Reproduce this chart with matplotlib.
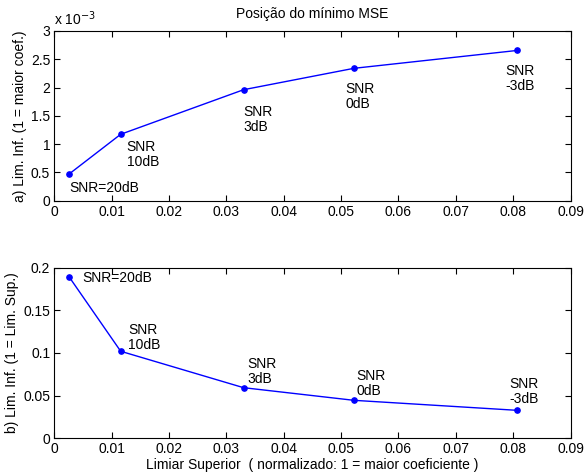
import matplotlib
matplotlib.use("Agg")
import matplotlib.pyplot as plt
from matplotlib.ticker import FuncFormatter

plt.rcParams['font.family'] = ['Liberation Sans', 'DejaVu Sans']
plt.rcParams['font.size'] = 10

# data
limiar_sup = [0.00256, 0.01157, 0.0330, 0.05223, 0.0806]
lim_inf_a = [0.47e-3, 1.174e-3, 1.962e-3, 2.34e-3, 2.655e-3]
lim_inf_b = [0.1894, 0.102, 0.0593, 0.0445, 0.0328]
snr_labels = ['SNR=20dB', 'SNR\n10dB', 'SNR\n3dB', 'SNR\n0dB', 'SNR\n-3dB']

# label anchor points (data coords, left edge of text)
lab_a = [(0.0027, 0.23e-3, 'center'), (0.0126, 1.07e-3, 'top'), (0.0330, 1.69e-3, 'top'),
         (0.0508, 2.10e-3, 'top'), (0.0787, 2.41e-3, 'top')]
lab_b = [(0.00495, 0.188, 'center'), (0.0129, 0.1355, 'top'), (0.0336, 0.095, 'top'),
         (0.0526, 0.081, 'top'), (0.0793, 0.0722, 'top')]

fig = plt.figure(figsize=(5.86, 4.73), dpi=100)
ax1 = fig.add_axes([0.0927, 0.5757, 0.881, 0.3588])
ax2 = fig.add_axes([0.0927, 0.0734, 0.881, 0.3607])

def style(ax):
	ax.set_xlim(0, 0.09)
	ax.set_xticks([i * 0.01 for i in range(10)])
	ax.xaxis.set_major_formatter(FuncFormatter(lambda v, p: '%g' % round(v, 4)))
	ax.tick_params(direction='in', top=True, right=True, length=4, width=0.8, pad=3)
	for s in ax.spines.values():
		s.set_linewidth(0.8)

ax1.plot(limiar_sup, lim_inf_a, '-o', color='#0000ff', lw=1, ms=3.8)
style(ax1)
ax1.set_ylim(0, 3e-3)
ax1.set_yticks([i * 0.5e-3 for i in range(7)])
ax1.yaxis.set_major_formatter(FuncFormatter(lambda v, p: '%g' % round(v * 1e3, 3)))
ax1.set_ylabel('a) Lim. Inf. (1 = maior coef.)', labelpad=3)
ax1.set_title('Posição do mínimo MSE', fontsize=10, pad=9)
ax1.text(0.0, 1.015, r'x 10$^{-3}$', transform=ax1.transAxes, ha='left', va='bottom')
for (x, y, va), t in zip(lab_a, snr_labels):
	ax1.text(x, y, t, ha='left', va=va, linespacing=1.1)

ax2.plot(limiar_sup, lim_inf_b, '-o', color='#0000ff', lw=1, ms=3.8)
style(ax2)
ax2.set_ylim(0, 0.2)
ax2.set_yticks([0, 0.05, 0.1, 0.15, 0.2])
ax2.yaxis.set_major_formatter(FuncFormatter(lambda v, p: '%g' % round(v, 3)))
ax2.set_ylabel('b) Lim. Inf. (1 = Lim. Sup.)', labelpad=3)
ax2.set_xlabel('Limiar Superior  ( normalizado: 1 = maior coeficiente )', labelpad=1)
for (x, y, va), t in zip(lab_b, snr_labels):
	ax2.text(x, y, t, ha='left', va=va, linespacing=1.1)

fig.savefig('out.png', dpi=100)
